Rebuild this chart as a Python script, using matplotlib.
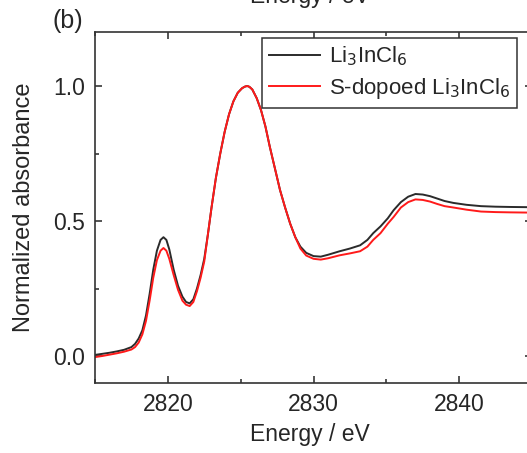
import matplotlib
matplotlib.use('Agg')
import matplotlib.pyplot as plt
from matplotlib.ticker import MultipleLocator

plt.rcParams['font.family'] = ['Liberation Sans', 'DejaVu Sans']
plt.rcParams['font.size'] = 16.5

energy = [2815.0, 2815.5, 2816.0, 2816.5, 2817.0, 2817.5, 2817.75, 2818.0, 2818.25, 2818.5,
          2818.75, 2819.0, 2819.25, 2819.5, 2819.7, 2819.9, 2820.1, 2820.4, 2820.7, 2821.0,
          2821.25, 2821.5, 2821.75, 2822.0, 2822.25, 2822.5, 2822.75, 2823.0, 2823.3, 2823.6,
          2823.9, 2824.2, 2824.5, 2824.8, 2825.1, 2825.3, 2825.45, 2825.6, 2825.8, 2826.1,
          2826.4, 2826.7, 2827.0, 2827.35, 2827.7, 2828.05, 2828.4, 2828.75, 2829.1, 2829.5,
          2830.0, 2830.5, 2831.0, 2831.8, 2832.5, 2833.2, 2833.7, 2834.1, 2834.6, 2835.1,
          2835.5, 2836.0, 2836.5, 2837.0, 2837.5, 2838.0, 2838.5, 2839.0, 2839.6, 2840.5,
          2841.5, 2842.5, 2843.5, 2845.0]

li3incl6 = [0.004, 0.008, 0.012, 0.017, 0.023, 0.033, 0.045, 0.065, 0.095, 0.15,
            0.23, 0.32, 0.39, 0.43, 0.44, 0.43, 0.395, 0.32, 0.26, 0.22,
            0.20, 0.195, 0.21, 0.25, 0.30, 0.36, 0.45, 0.55, 0.66, 0.75,
            0.83, 0.895, 0.943, 0.975, 0.992, 0.998, 1.0, 0.997, 0.987, 0.955,
            0.91, 0.85, 0.775, 0.695, 0.615, 0.55, 0.49, 0.44, 0.405, 0.382,
            0.37, 0.368, 0.375, 0.388, 0.398, 0.41, 0.43, 0.455, 0.48, 0.51,
            0.54, 0.57, 0.59, 0.60, 0.598, 0.592, 0.583, 0.574, 0.567, 0.56,
            0.555, 0.553, 0.552, 0.551]

s_doped = [-0.004, 0.0, 0.005, 0.01, 0.016, 0.024, 0.033, 0.05, 0.08, 0.13,
           0.205, 0.29, 0.355, 0.39, 0.40, 0.39, 0.36, 0.30, 0.245, 0.205,
           0.19, 0.185, 0.20, 0.24, 0.29, 0.35, 0.45, 0.55, 0.66, 0.75,
           0.83, 0.895, 0.943, 0.975, 0.992, 0.998, 1.0, 0.997, 0.987, 0.955,
           0.91, 0.85, 0.775, 0.695, 0.615, 0.55, 0.49, 0.44, 0.398, 0.372,
           0.36, 0.357, 0.362, 0.373, 0.38, 0.388, 0.405, 0.43, 0.455, 0.49,
           0.515, 0.55, 0.57, 0.58, 0.578, 0.572, 0.563, 0.555, 0.55, 0.542,
           0.535, 0.533, 0.532, 0.531]

labels = ['Li$_3$InCl$_6$', 'S-dopoed Li$_3$InCl$_6$']
text_color = '#262626'

fig = plt.figure(figsize=(5.27, 4.53), dpi=100)
ax = fig.add_axes([95 / 527, 70 / 453, 437 / 527, 351 / 453])

ax.plot(energy, li3incl6, color='#2b2b2b', lw=1.4, label=labels[0])
ax.plot(energy, s_doped, color='#ff1a1a', lw=1.4, label=labels[1])

ax.set_xlim(2815, 2845)
ax.set_ylim(-0.1, 1.2)
ax.xaxis.set_major_locator(MultipleLocator(10))
ax.xaxis.set_minor_locator(MultipleLocator(5))
ax.yaxis.set_major_locator(MultipleLocator(0.5))
ax.yaxis.set_minor_locator(MultipleLocator(0.25))
ax.tick_params(which='both', direction='in', top=True, right=True,
               colors=text_color, width=1.1, labelsize=16.5, pad=7)
ax.tick_params(which='major', length=5)
ax.tick_params(which='minor', length=3)
for s in ax.spines.values():
    s.set_linewidth(1.2)
    s.set_color('#333333')

ax.set_xlabel('Energy / eV', color=text_color, fontsize=16.5)
ax.set_ylabel('Normalized absorbance', color=text_color, fontsize=17)
ax.xaxis.set_label_coords(215 / 437, -0.115)
ax.yaxis.set_label_coords(-0.137, 0.5)

leg = ax.legend(loc='upper right', bbox_to_anchor=(0.966, 0.983), borderaxespad=0,
                fancybox=False, edgecolor='#333333', framealpha=1,
                handlelength=2.3, labelspacing=0.35, borderpad=0.3, handletextpad=0.4,
                fontsize=16)
leg.get_frame().set_linewidth(1.1)
for t in leg.get_texts():
    t.set_color(text_color)

fig.text(68 / 527, 1 - 21 / 453, '(b)', ha='center', va='center', color=text_color, fontsize=18)
fig.text(310 / 527, 1 - 3 / 453, 'Energy / eV', ha='center', va='baseline', color=text_color, fontsize=16.5)

fig.savefig('out.png', dpi=100)
